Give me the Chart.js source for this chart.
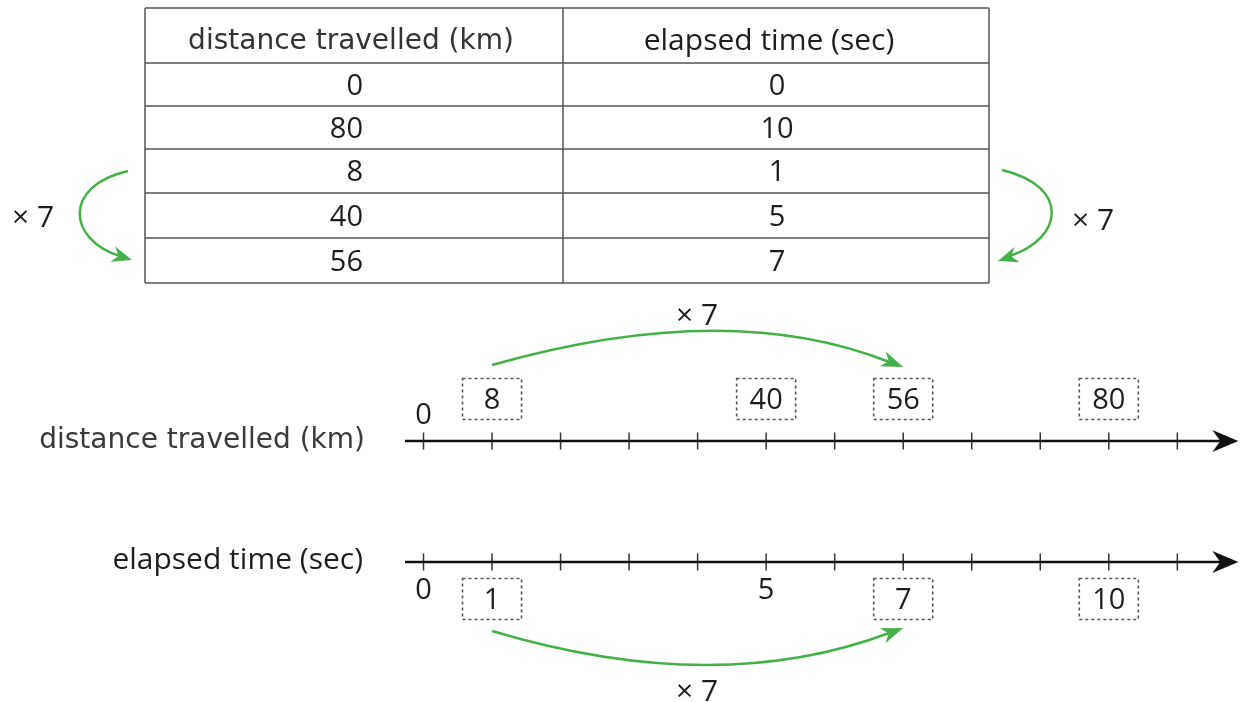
<!DOCTYPE html>
<html>
<head>
<meta charset="utf-8">
<script src="https://cdn.jsdelivr.net/npm/chart.js@4.4.0/dist/chart.umd.min.js"></script>
<style>
  html, body { margin: 0; padding: 0; background: #fff; }
  #wrap { position: relative; width: 1246px; height: 702px; }
</style>
</head>
<body>
<div id="wrap"><canvas id="diagram" width="1246" height="702"></canvas></div>
<script>
// table values
const tableHeaders = ['distance travelled (km)', 'elapsed time (sec)'];
const tableDistance = [0, 80, 8, 40, 56];
const tableTime = [0, 10, 1, 5, 7];

// double number line
const kmPerSecond = 8;
const tickValues = [0, 1, 2, 3, 4, 5, 6, 7, 8, 9, 10, 11];
const distanceMarks = [0, 8, 40, 56, 80];
const distanceBoxed = [false, true, true, true, true];
const timeMarks = [0, 1, 5, 7, 10];
const timeBoxed = [false, true, false, true, true];
const multiplier = 7;
const arcFrom = 1;   // seconds
const arcTo = 7;     // seconds

const SANS = "'Open Sans', 'Noto Sans', sans-serif";
const WIDE = "'DejaVu Sans', Verdana, sans-serif";
const GREEN = '#45b04a';
const INK = '#1e1e1e';

// vertical layout (pixels from top)
const topLineY = 441;
const bottomLineY = 562;
const lineStart = -0.27;
const lineEnd = 11.7;
const arrowTip = 11.89;

const ticksTop = tickValues.map(v => ({ x: v, y: topLineY }));
const ticksBottom = tickValues.map(v => ({ x: v, y: bottomLineY }));

function arrowHead(ctx, x, y, angle, len, half) {
    ctx.save();
    ctx.translate(x, y);
    ctx.rotate(angle);
    ctx.beginPath();
    ctx.moveTo(0, 0);
    ctx.lineTo(-len, -half);
    ctx.lineTo(-len * 0.7, 0);
    ctx.lineTo(-len, half);
    ctx.closePath();
    ctx.fill();
    ctx.restore();
}

const diagramPlugin = {
    id: 'diagram',
    afterDatasetsDraw(chart) {
        const ctx = chart.ctx;
        const xs = chart.scales.x;
        const ys = chart.scales.y;
        const X = v => xs.getPixelForValue(v);
        const Y = v => ys.getPixelForValue(v);

        ctx.save();

        // ---- table ----
        const colX = [145, 563, 989];
        const rowY = [8, 63, 106, 149, 193, 238, 283];
        ctx.strokeStyle = '#555';
        ctx.lineWidth = 1.5;
        ctx.beginPath();
        rowY.forEach(r => { ctx.moveTo(colX[0], Y(r)); ctx.lineTo(colX[2], Y(r)); });
        colX.forEach(c => { ctx.moveTo(c, Y(rowY[0])); ctx.lineTo(c, Y(rowY[rowY.length - 1])); });
        ctx.stroke();

        ctx.textBaseline = 'middle';
        ctx.textAlign = 'center';
        ctx.fillStyle = '#333';
        ctx.font = '28px ' + WIDE;
        ctx.fillText(tableHeaders[0], (colX[0] + colX[1]) / 2 - 3, Y(42));
        ctx.fillStyle = INK;
        ctx.font = '30px ' + SANS;
        ctx.fillText(tableHeaders[1], (colX[1] + colX[2]) / 2 - 7, Y(41));

        ctx.fillStyle = INK;
        ctx.font = '29px ' + SANS;
        tableDistance.forEach((d, i) => {
            const cy = (rowY[i + 1] + rowY[i + 2]) / 2 + 2;
            ctx.textAlign = 'right';
            ctx.fillText(String(d), 363, Y(cy));
            ctx.textAlign = 'center';
            ctx.fillText(String(tableTime[i]), (colX[1] + colX[2]) / 2 + 1, Y(cy));
        });

        // ---- curved arrows beside the table ----
        ctx.strokeStyle = GREEN;
        ctx.fillStyle = GREEN;
        ctx.lineWidth = 2.5;
        ctx.beginPath();
        ctx.moveTo(128, 171);
        ctx.bezierCurveTo(62, 186, 68, 240, 120, 256);
        ctx.stroke();
        arrowHead(ctx, 132, 260, Math.atan2(16, 52), 20, 8);

        ctx.beginPath();
        ctx.moveTo(1002, 170);
        ctx.bezierCurveTo(1070, 186, 1064, 238, 1010, 256);
        ctx.stroke();
        arrowHead(ctx, 998, 261, Math.atan2(18, -54), 20, 8);

        ctx.fillStyle = INK;
        ctx.font = '30px ' + SANS;
        ctx.textAlign = 'center';
        ctx.fillText('\u00d7 ' + multiplier, 33, 218);
        ctx.fillText('\u00d7 ' + multiplier, 1093, 221);

        // ---- number line arrowheads ----
        ctx.fillStyle = '#111';
        [topLineY, bottomLineY].forEach(ly => {
            ctx.beginPath();
            ctx.moveTo(X(arrowTip), Y(ly));
            ctx.lineTo(X(arrowTip) - 26, Y(ly) - 11);
            ctx.lineTo(X(arrowTip) - 18, Y(ly));
            ctx.lineTo(X(arrowTip) - 26, Y(ly) + 11);
            ctx.closePath();
            ctx.fill();
        });

        // ---- number line titles ----
        ctx.textAlign = 'right';
        ctx.font = '28px ' + WIDE;
        ctx.fillStyle = '#3a3a3a';
        ctx.fillText(tableHeaders[0], 365, Y(topLineY));
        ctx.font = '30px ' + SANS;
        ctx.fillStyle = INK;
        ctx.fillText(tableHeaders[1], 363, Y(bottomLineY - 2));

        // ---- labels on the lines ----
        ctx.font = '29px ' + SANS;
        ctx.textAlign = 'center';
        function label(value, px, cy, boxed) {
            if (boxed) {
                ctx.save();
                ctx.strokeStyle = '#555';
                ctx.lineWidth = 1.6;
                ctx.setLineDash([3, 3]);
                ctx.strokeRect(px - 29.5, Y(cy) - 20.5, 59, 41);
                ctx.restore();
            }
            ctx.fillStyle = INK;
            ctx.fillText(String(value), px, Y(cy) + 2);
        }
        distanceMarks.forEach((d, i) => {
            const px = X(d / kmPerSecond);
            label(d, px, distanceBoxed[i] ? 399 : 414, distanceBoxed[i]);
        });
        timeMarks.forEach((t, i) => {
            label(t, X(t), timeBoxed[i] ? 599 : 589, timeBoxed[i]);
        });

        // ---- "x 7" arcs between the lines ----
        ctx.strokeStyle = GREEN;
        ctx.fillStyle = GREEN;
        ctx.lineWidth = 2.5;
        const x1 = X(arcFrom), x7 = X(arcTo);
        // top arc
        ctx.beginPath();
        ctx.moveTo(x1, Y(365));
        ctx.quadraticCurveTo(728, Y(298), x7 - 14, Y(362));
        ctx.stroke();
        arrowHead(ctx, x7, Y(367), Math.atan2(69, 175), 22, 8);
        // bottom arc
        ctx.beginPath();
        ctx.moveTo(x1, Y(631));
        ctx.quadraticCurveTo(716, Y(698), x7 - 14, Y(633));
        ctx.stroke();
        arrowHead(ctx, x7, Y(628), Math.atan2(-70, 187), 22, 8);

        ctx.fillStyle = INK;
        ctx.font = '30px ' + SANS;
        ctx.fillText('\u00d7 ' + multiplier, 697, Y(316));
        ctx.fillText('\u00d7 ' + multiplier, 697, Y(692));

        ctx.restore();
    }
};

const pxPerSecond = 68.53;
const originPx = 423.5;

new Chart(document.getElementById('diagram'), {
    type: 'scatter',
    data: {
        datasets: [
            {
                data: [{ x: lineStart, y: topLineY }, { x: lineEnd, y: topLineY }],
                showLine: true, borderColor: '#111', borderWidth: 2.5, pointRadius: 0
            },
            {
                data: [{ x: lineStart, y: bottomLineY }, { x: lineEnd, y: bottomLineY }],
                showLine: true, borderColor: '#111', borderWidth: 2.5, pointRadius: 0
            },
            {
                data: ticksTop, pointStyle: 'line', rotation: 90, pointRadius: 8.5,
                borderColor: '#333', borderWidth: 1.5
            },
            {
                data: ticksBottom, pointStyle: 'line', rotation: 90, pointRadius: 8.5,
                borderColor: '#333', borderWidth: 1.5
            }
        ]
    },
    options: {
        responsive: false,
        animation: false,
        events: [],
        layout: { padding: 0, autoPadding: false },
        plugins: { legend: { display: false }, tooltip: { enabled: false } },
        scales: {
            x: {
                type: 'linear', display: false,
                min: -originPx / pxPerSecond,
                max: (1246 - originPx) / pxPerSecond
            },
            y: { type: 'linear', display: false, min: 0, max: 702, reverse: true }
        }
    },
    plugins: [diagramPlugin]
});
</script>
</body>
</html>
